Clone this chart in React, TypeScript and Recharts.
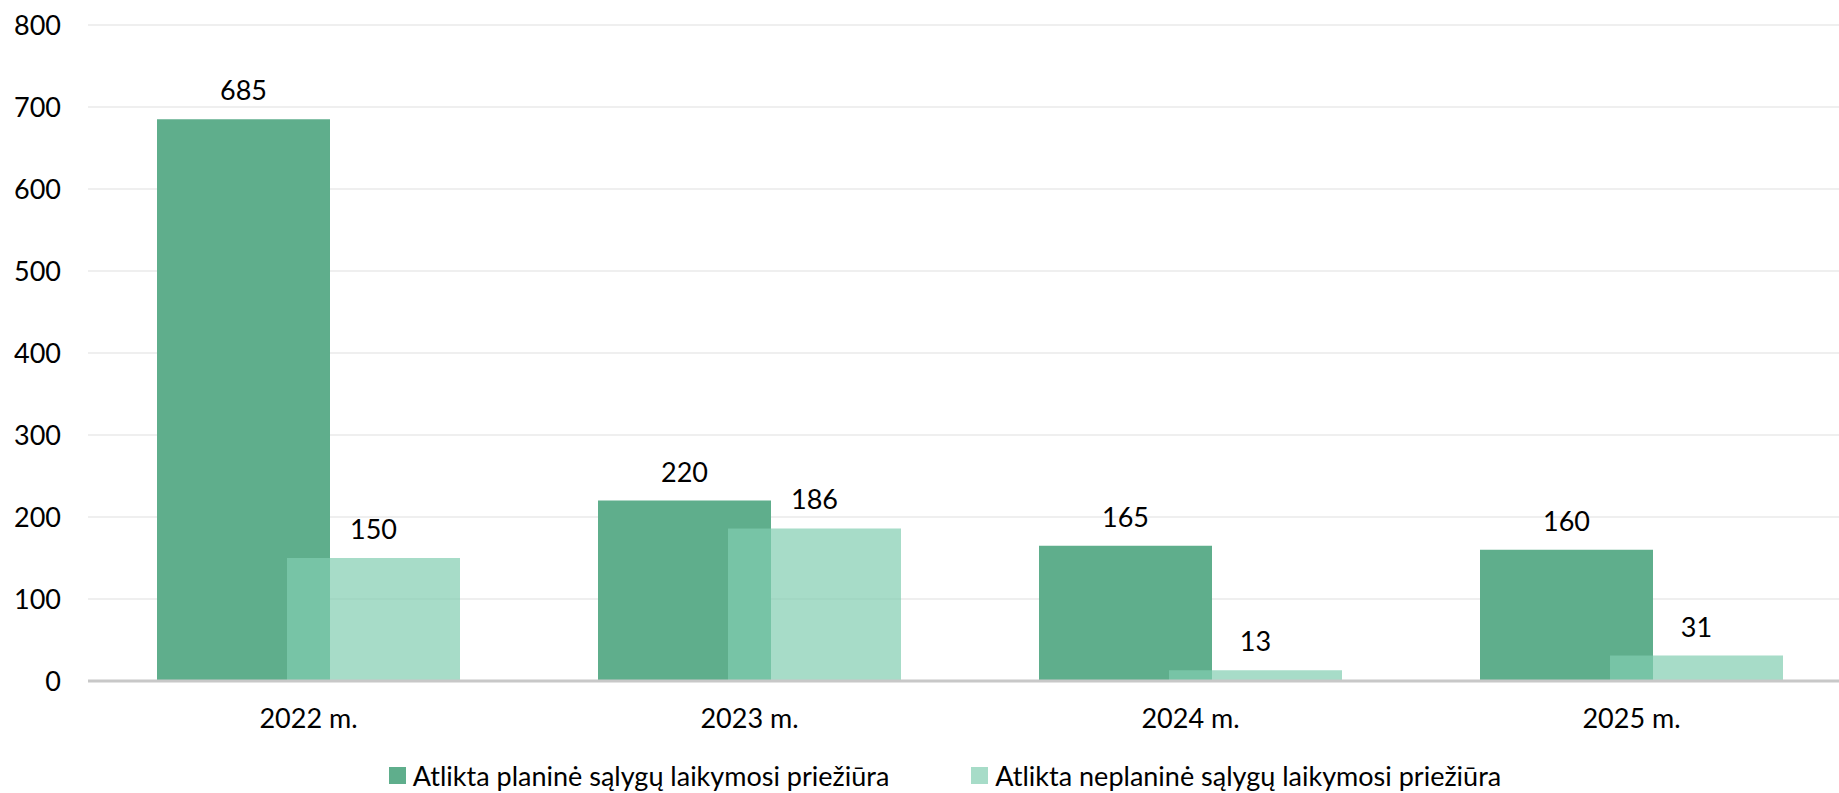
import { BarChart, Bar, XAxis, YAxis, CartesianGrid, Legend, LabelList } from 'recharts'

const YEARS = ['2022 m.', '2023 m.', '2024 m.', '2025 m.']
const PLANNED = [685, 220, 165, 160]
const UNPLANNED = [150, 186, 13, 31]
const Y_TICKS = [0, 100, 200, 300, 400, 500, 600, 700, 800]

const SERIES = [
  { key: 'planned' as const, label: 'Atlikta planinė sąlygų laikymosi priežiūra', color: '#5fae8c', opacity: 1 },
  { key: 'unplanned' as const, label: 'Atlikta neplaninė sąlygų laikymosi priežiūra', color: '#82cdb1', opacity: 0.7 },
]

const FONT = 'Lato, "Open Sans", sans-serif'

const data = YEARS.map((year, i) => ({
  year,
  planned: PLANNED[i],
  unplanned: UNPLANNED[i],
}))

function LegendContent() {
  return (
    <div
      style={{
        display: 'flex',
        justifyContent: 'center',
        alignItems: 'center',
        height: 40,
        paddingTop: 4,
        boxSizing: 'border-box',
        fontFamily: FONT,
        fontSize: 27,
        color: '#000',
        gap: 82,
      }}
    >
      {SERIES.map((s) => (
        <div key={s.key} style={{ display: 'flex', alignItems: 'center', gap: 7 }}>
          <span style={{ width: 17, height: 17, background: s.color, opacity: s.opacity, display: 'inline-block' }} />
          <span>{s.label}</span>
        </div>
      ))}
    </div>
  )
}

export default function App() {
  return (
    <div style={{ position: 'absolute', left: 0, top: 0, width: 1839, height: 793, overflow: 'hidden', background: '#fff' }}>
      <BarChart
        width={1860}
        height={793}
        data={data}
        margin={{ top: 25, right: 8, left: 0, bottom: 0 }}
        barGap={-43}
      >
        <CartesianGrid vertical={false} stroke="#efefef" strokeWidth={2} />
        <XAxis
          dataKey="year"
          height={72}
          tickLine={false}
          tickSize={0}
          tickMargin={28}
          axisLine={{ stroke: '#c8c8c8', strokeWidth: 3 }}
          tick={{ fontSize: 27, fill: '#000', fontFamily: FONT }}
        />
        <YAxis
          width={88}
          domain={[0, 800]}
          ticks={Y_TICKS}
          tickLine={false}
          axisLine={false}
          tickSize={0}
          tickMargin={27}
          tick={{ fontSize: 27, fill: '#000', fontFamily: FONT }}
        />
        <Legend
          verticalAlign="bottom"
          height={40}
          content={<LegendContent />}
          wrapperStyle={{ left: 0, width: 1890 }}
        />
        {SERIES.map((s) => (
          <Bar
            key={s.key}
            dataKey={s.key}
            name={s.label}
            fill={s.color}
            fillOpacity={s.opacity}
            barSize={173}
            isAnimationActive={false}
          >
            <LabelList
              dataKey={s.key}
              position="top"
              offset={19}
              style={{ fontSize: 27, fill: '#000', fontFamily: FONT }}
            />
          </Bar>
        ))}
      </BarChart>
    </div>
  )
}
